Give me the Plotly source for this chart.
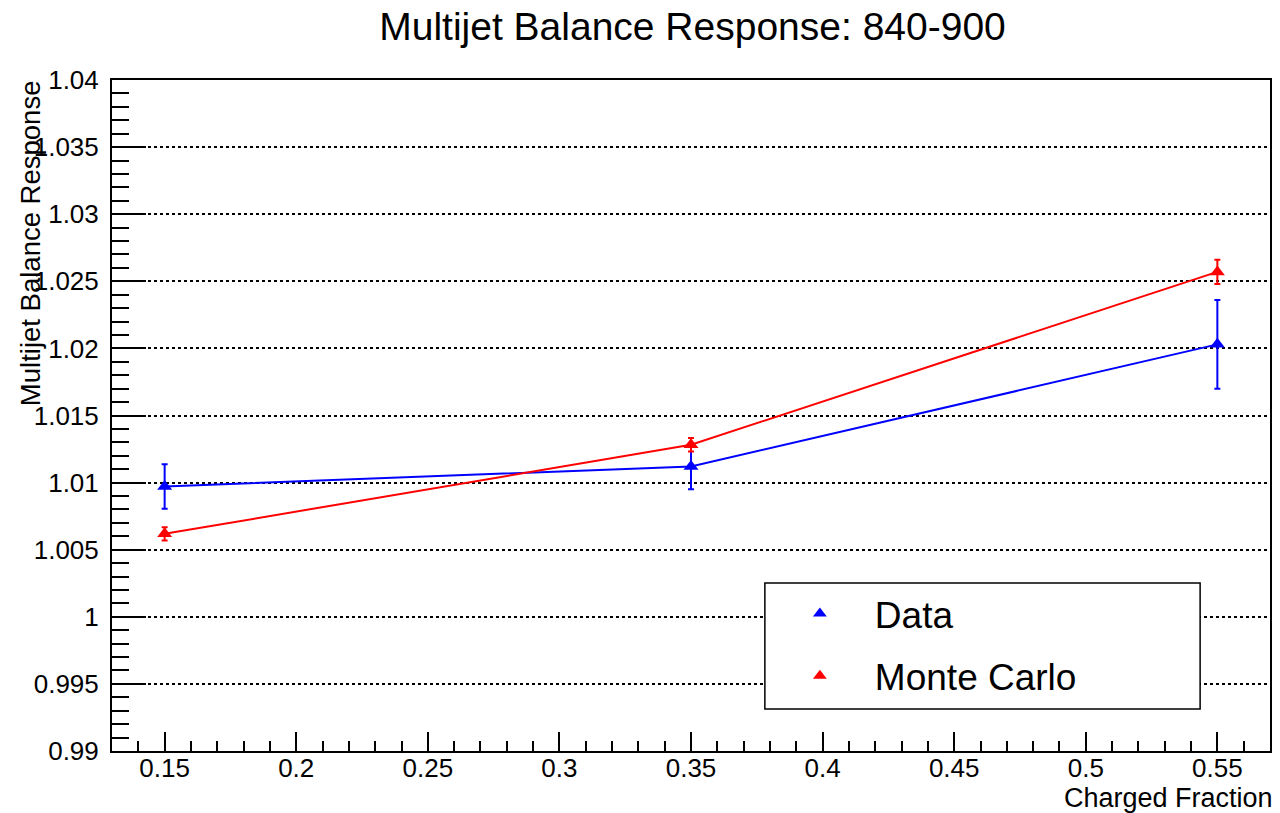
import plotly.graph_objects as go

# Charged-fraction bin centres
charged_fraction = [0.15, 0.35, 0.55]

# Multijet balance response, data
data_response = [1.00971, 1.0112, 1.0203]
data_error = [0.00166, 0.0017, 0.0033]

# Multijet balance response, Monte Carlo
mc_response = [1.00618, 1.01282, 1.0257]
mc_error = [0.0005, 0.0005, 0.0009]

# Axis ticks
y_ticks = [0.99, 0.995, 1.0, 1.005, 1.01, 1.015, 1.02, 1.025, 1.03, 1.035, 1.04]
y_tick_labels = ["0.99", "0.995", "1", "1.005", "1.01", "1.015", "1.02", "1.025", "1.03", "1.035", "1.04"]
x_ticks = [0.15, 0.2, 0.25, 0.3, 0.35, 0.4, 0.45, 0.5, 0.55]
x_tick_labels = ["0.15", "0.2", "0.25", "0.3", "0.35", "0.4", "0.45", "0.5", "0.55"]

FONT = "Liberation Sans, Arial, sans-serif"
BLUE = "#0000ff"
RED = "#ff0000"

# pixel geometry of the frame
W, H = 1280, 813
L, R, T, B = 112, 8, 80, 62
PW, PH = W - L - R, H - T - B


def px_x(x):
    return (x - L) / PW


def px_y(y):
    return (H - B - y) / PH


fig = go.Figure()

for name, ys, errs, col in [("Data", data_response, data_error, BLUE),
                            ("Monte Carlo", mc_response, mc_error, RED)]:
    fig.add_trace(go.Scatter(
        x=charged_fraction, y=ys, mode="lines+markers", name=name,
        line=dict(color=col, width=2),
        marker=dict(symbol="triangle-up", size=13, color=col),
        error_y=dict(type="data", array=errs, visible=True, color=col,
                     thickness=2, width=3),
        showlegend=False,
    ))
    # marker-only legend entry
    fig.add_trace(go.Scatter(
        x=[None], y=[None], mode="markers", name=name, legendgroup=name,
        marker=dict(symbol="triangle-up", size=12, color=col),
    ))

# legend frame (white box covering the grid)
fig.add_shape(type="rect", xref="paper", yref="paper",
              x0=px_x(766), x1=px_x(1202), y0=px_y(709), y1=px_y(583),
              line=dict(color="black", width=1.5), fillcolor="white", layer="above")

fig.update_layout(
    width=W, height=H,
    paper_bgcolor="white", plot_bgcolor="white",
    margin=dict(l=L, r=R, t=T, b=B),
    font=dict(family=FONT, color="black"),
    title=dict(text="Multijet Balance Response: 840-900",
               x=692.5 / W, y=1 - 26 / H, xanchor="center", yanchor="middle",
               font=dict(size=39)),
    legend=dict(x=px_x(766), y=px_y(583), xanchor="left", yanchor="top",
                borderwidth=0, bgcolor="rgba(0,0,0,0)",
                font=dict(size=37), tracegroupgap=11, itemwidth=100),
)

fig.update_xaxes(
    range=[0.13, 0.57], showgrid=False, zeroline=False,
    showline=True, linecolor="black", linewidth=2, mirror=True,
    tickmode="array", tickvals=x_ticks, ticktext=x_tick_labels,
    ticks="inside", ticklen=19, tickwidth=2, tickcolor="black",
    tickfont=dict(size=26), ticklabelstandoff=-7,
    minor=dict(dtick=0.01, tick0=0.15, ticks="inside", ticklen=10, tickwidth=2,
               tickcolor="black", showgrid=False),
)
fig.update_yaxes(
    range=[0.99, 1.04], zeroline=False,
    showline=True, linecolor="black", linewidth=2, mirror=True,
    tickmode="array", tickvals=y_ticks, ticktext=y_tick_labels,
    ticks="inside", ticklen=34, tickwidth=2, tickcolor="black",
    tickfont=dict(size=26), ticklabelstandoff=6,
    showgrid=True, gridcolor="black", griddash="dot", gridwidth=1.5,
    minor=dict(dtick=0.001, tick0=0.99, ticks="inside", ticklen=17, tickwidth=2,
               tickcolor="black", showgrid=False),
)

# Axis titles, ROOT-style placement (right/top aligned)
fig.add_annotation(text="Charged Fraction", xref="paper", yref="paper",
                   x=px_x(1277), y=px_y(798), xanchor="right", yanchor="middle",
                   showarrow=False, font=dict(size=27))
fig.add_annotation(text="Multijet Balance Response", xref="paper", yref="paper",
                   x=px_x(30), y=px_y(78), xanchor="center", yanchor="top",
                   textangle=-90, showarrow=False, font=dict(size=27.5))

fig.write_html("out.html")
